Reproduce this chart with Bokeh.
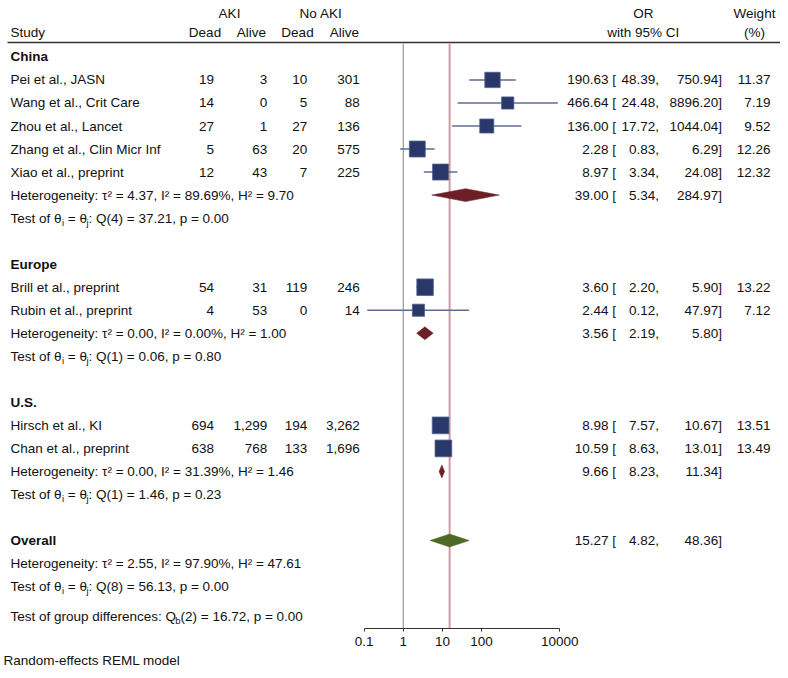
from bokeh.plotting import figure
from bokeh.models import Range1d, LogScale, LogAxis, FixedTicker, ColumnDataSource, Title
from bokeh.core.properties import value
from bokeh.embed import file_html
from bokeh.resources import INLINE

FONT = "Liberation Sans"
FS = "13.5px"
SUB = "9.5px"

# ---------------- data ----------------
studies = ["Pei et al., JASN", "Wang et al., Crit Care", "Zhou et al., Lancet",
           "Zhang et al., Clin Micr Inf", "Xiao et al., preprint",
           "Brill et al., preprint", "Rubin et al., preprint",
           "Hirsch et al., KI", "Chan et al., preprint"]
study_group = ["China", "China", "China", "China", "China", "Europe", "Europe", "U.S.", "U.S."]
aki_dead = [19, 14, 27, 5, 12, 54, 4, 694, 638]
aki_alive = [3, 0, 1, 63, 43, 31, 53, 1299, 768]
noaki_dead = [10, 5, 27, 20, 7, 119, 0, 194, 133]
noaki_alive = [301, 88, 136, 575, 225, 246, 14, 3262, 1696]
or_est = [190.63, 466.64, 136.00, 2.28, 8.97, 3.60, 2.44, 8.98, 10.59]
or_lo = [48.39, 24.48, 17.72, 0.83, 3.34, 2.20, 0.12, 7.57, 8.63]
or_hi = [750.94, 8896.20, 1044.04, 6.29, 24.08, 5.90, 47.97, 10.67, 13.01]
weight = [11.37, 7.19, 9.52, 12.26, 12.32, 13.22, 7.12, 13.51, 13.49]

groups = ["China", "Europe", "U.S."]
group_est = [39.00, 3.56, 9.66]
group_lo = [5.34, 2.19, 8.23]
group_hi = [284.97, 5.80, 11.34]
group_het = ["Heterogeneity: τ² = 4.37, I² = 89.69%, H² = 9.70",
             "Heterogeneity: τ² = 0.00, I² = 0.00%, H² = 1.00",
             "Heterogeneity: τ² = 0.00, I² = 31.39%, H² = 1.46"]
group_q = ["Q(4) = 37.21, p = 0.00", "Q(1) = 0.06, p = 0.80", "Q(1) = 1.46, p = 0.23"]

overall_est = 15.27
overall_lo = 4.82
overall_hi = 48.36
overall_het = "Heterogeneity: τ² = 2.55, I² = 97.90%, H² = 47.61"
overall_q = "Q(8) = 56.13, p = 0.00"
group_diff = "(2) = 16.72, p = 0.00"

axis_ticks = [0.1, 1, 10, 100, 10000]
axis_labels = ["0.1", "1", "10", "100", "10000"]

# ---------------- row layout ----------------
study_rows, group_head_rows, het_rows, q_rows = [], [], [], []
r = 0
for g in groups:
    group_head_rows.append(r)
    r += 1
    for s, sg in zip(studies, study_group):
        if sg == g:
            study_rows.append(r)
            r += 1
    het_rows.append(r)
    q_rows.append(r + 1)
    r += 3
overall_row = r
overall_het_row = r + 1
overall_q_row = r + 2
diff_row = r + 3.3

Y_BOTTOM, Y_TOP = 24.82, -2.45
p = figure(width=780, height=670, x_range=Range1d(0, 780), y_range=Range1d(Y_BOTTOM, Y_TOP),
           x_axis_type=None, y_axis_type=None, output_backend="svg", toolbar_location=None,
           min_border_left=0, min_border_right=0, min_border_top=0, min_border_bottom=0)
p.extra_x_ranges = {"log": Range1d(10 ** -10.297, 10 ** 9.642)}
p.extra_x_scales = {"log": LogScale()}
p.outline_line_color = None
p.background_fill_color = "white"
p.border_fill_color = "white"


def txt(xs, ys, texts, align="left", bold=False, size=FS, color="#111111"):
    src = ColumnDataSource(dict(x=list(xs), y=list(ys), t=list(texts)))
    p.text(x="x", y="y", text="t", source=src, text_align=align, text_baseline="middle",
           text_font=value(FONT), text_font_size=value(size),
           text_font_style="bold" if bold else "normal", text_color=color)


# Arial / Liberation Sans advance widths (1/1000 em) for subscript placement
W = {'T': 611, 'e': 556, 's': 500, 't': 278, ' ': 278, 'o': 556, 'f': 278, 'θ': 540,
     '=': 584, 'g': 556, 'r': 333, 'u': 556, 'p': 556, 'd': 556, 'i': 222, 'c': 500,
     'n': 556, ':': 278, 'Q': 778, 'h': 556, 'b': 556, 'j': 222}


def tw(s, px=13.5):
    return sum(W[c] for c in s) / 1000.0 * px * 0.985


# ---------------- headers ----------------
top_row, sub_row, rule_row = -1.88, -1.05, -0.63
txt([229, 320.5], [top_row] * 2, ["AKI", "No AKI"], align="center")
txt([204.5, 250.8, 297, 343.8], [sub_row] * 4, ["Dead", "Alive", "Dead", "Alive"], align="center")
txt([10], [sub_row], ["Study"])
txt([642.8, 754], [top_row] * 2, ["OR", "Weight"], align="center")
txt([642.8, 754], [sub_row] * 2, ["with 95% CI", "(%)"], align="center")
p.segment(x0=[7], x1=[782], y0=[rule_row], y1=[rule_row], line_color="#333333", line_width=1.5)

# reference lines
p.segment(x0=[1, overall_est], x1=[1, overall_est], y0=[rule_row + 0.05] * 2, y1=[Y_BOTTOM] * 2,
          x_range_name="log", line_color=["#a0a0a0", "#d29aa6"], line_width=[1.3, 2])

# ---------------- study rows ----------------
txt([10] * len(studies), study_rows, studies)
txt([213.5] * 9, study_rows, [f"{v:,}" for v in aki_dead], align="right")
txt([266.7] * 9, study_rows, [f"{v:,}" for v in aki_alive], align="right")
txt([306.7] * 9, study_rows, [f"{v:,}" for v in noaki_dead], align="right")
txt([359.3] * 9, study_rows, [f"{v:,}" for v in noaki_alive], align="right")
txt([615.5] * 9, study_rows, [f"{v:.2f} [" for v in or_est], align="right")
txt([658.5] * 9, study_rows, [f"{v:.2f}," for v in or_lo], align="right")
txt([721.5] * 9, study_rows, [f"{v:.2f}]" for v in or_hi], align="right")
txt([770] * 9, study_rows, [f"{v:.2f}" for v in weight], align="right")

p.segment(x0=or_lo, x1=or_hi, y0=study_rows, y1=study_rows, x_range_name="log",
          line_color="#5d6d93", line_width=1.5)
p.scatter(x=or_est, y=study_rows, marker="square", size=[4.55 * w ** 0.5 for w in weight],
          x_range_name="log", fill_color="#28386a", line_color="#52618a", line_width=0.8)

# ---------------- group summaries ----------------
txt([10] * 3, group_head_rows, groups, bold=True)
txt([10] * 3, het_rows, group_het)
txt([615.5] * 3, het_rows, [f"{v:.2f} [" for v in group_est], align="right")
txt([658.5] * 3, het_rows, [f"{v:.2f}," for v in group_lo], align="right")
txt([721.5] * 3, het_rows, [f"{v:.2f}]" for v in group_hi], align="right")

hh = 0.28
p.patches(xs=[[lo, e, hi, e] for lo, e, hi in zip(group_lo, group_est, group_hi)],
          ys=[[rr, rr - hh, rr, rr + hh] for rr in het_rows], x_range_name="log",
          fill_color="#6d1f26", line_color="#6d1f26", line_width=0.5)

# overall
txt([10], [overall_row], ["Overall"], bold=True)
txt([10], [overall_het_row], [overall_het])
txt([615.5], [overall_row], [f"{overall_est:.2f} ["], align="right")
txt([658.5], [overall_row], [f"{overall_lo:.2f},"], align="right")
txt([721.5], [overall_row], [f"{overall_hi:.2f}]"], align="right")
p.patches(xs=[[overall_lo, overall_est, overall_hi, overall_est]],
          ys=[[overall_row, overall_row - hh, overall_row, overall_row + hh]], x_range_name="log",
          fill_color="#4c6a26", line_color="#4c6a26", line_width=0.5)

# "Test of θi = θj: ..." rows with subscripts (SVG strips leading spaces, so offset instead)
sub_dy = 0.17
all_q_rows = q_rows + [overall_q_row]
all_q = group_q + [overall_q]
x0 = 10
x_i = x0 + tw("Test of θ")
x_eq = x_i + tw("i", 9.5) + tw(" ")
x_j = x_eq + tw("= θ")
x_rest = x_j + tw("j", 9.5)
n = len(all_q_rows)
txt([x0] * n, all_q_rows, ["Test of θ"] * n)
txt([x_i] * n, [rr + sub_dy for rr in all_q_rows], ["i"] * n, size=SUB)
txt([x_eq] * n, all_q_rows, ["= θ"] * n)
txt([x_j] * n, [rr + sub_dy for rr in all_q_rows], ["j"] * n, size=SUB)
txt([x_rest] * n, all_q_rows, [": " + q for q in all_q])

# group differences
x_b = x0 + tw("Test of group differences: Q")
txt([x0], [diff_row], ["Test of group differences: Q"])
txt([x_b], [diff_row + sub_dy], ["b"], size=SUB)
txt([x_b + tw("b", 9.5)], [diff_row], [group_diff])

# ---------------- axis ----------------
ax = LogAxis(x_range_name="log", ticker=FixedTicker(ticks=axis_ticks, minor_ticks=[]),
             bounds=(0.1, 10000))
ax.major_label_overrides = {t: l for t, l in zip(axis_ticks, axis_labels)}
ax.axis_line_color = "#333333"
ax.major_tick_line_color = "#333333"
ax.major_tick_in = 0
ax.major_tick_out = 3
ax.minor_tick_out = 0
ax.major_label_standoff = 5
ax.major_label_text_font = FONT
ax.major_label_text_font_size = FS
ax.major_label_text_color = "#111111"
p.add_layout(ax, "below")

foot = Title(text="Random-effects REML model", align="left", text_font=FONT,
             text_font_size=FS, text_font_style="normal", text_color="#111111",
             standoff=5, offset=3)
p.add_layout(foot, "below")

open("out.html", "w").write(file_html(p, INLINE))
